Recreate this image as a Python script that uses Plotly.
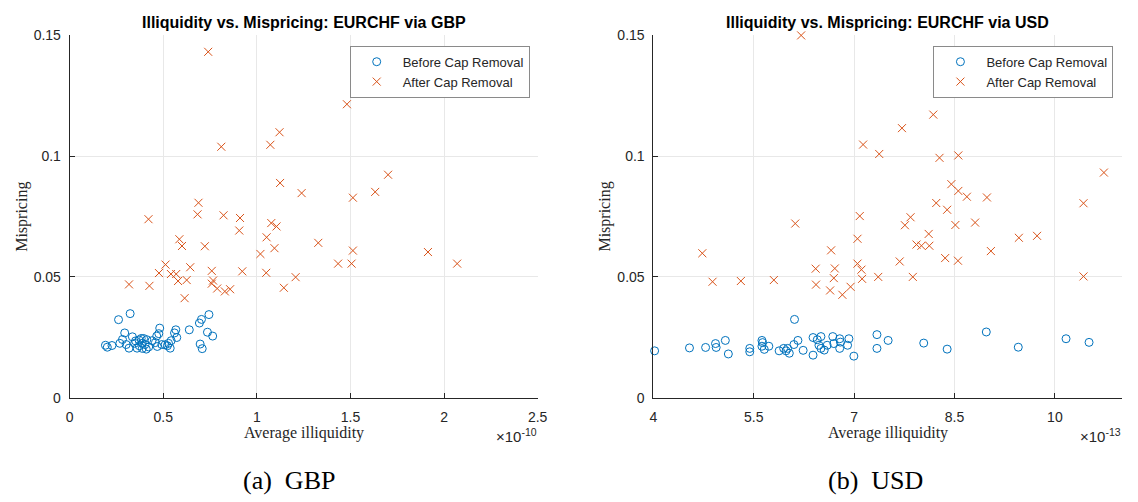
import plotly.graph_objects as go

# ---------------- data ----------------
# GBP panel (x in units of 1e-10)
gbp_before_x = [0.261, 0.323, 0.191, 0.201, 0.226, 0.268, 0.294, 0.282, 0.317, 0.335,
                0.360, 0.370, 0.388, 0.395, 0.409, 0.388, 0.440, 0.458, 0.468, 0.476,
                0.481, 0.465, 0.528, 0.537, 0.542, 0.560, 0.567, 0.572, 0.639, 0.693,
                0.704, 0.744, 0.736, 0.764, 0.697, 0.708, 0.510, 0.352, 0.372, 0.382,
                0.402, 0.412, 0.422, 0.347, 0.302, 0.492, 0.522]
gbp_before_y = [0.0323, 0.0348, 0.0217, 0.0209, 0.0216, 0.0225, 0.0268, 0.0241, 0.0205, 0.0252,
                0.0205, 0.0239, 0.0225, 0.0245, 0.0201, 0.0204, 0.0236, 0.0228, 0.0212, 0.0265,
                0.0288, 0.0255, 0.0225, 0.0205, 0.0236, 0.0268, 0.0281, 0.0249, 0.0281, 0.0309,
                0.0324, 0.0344, 0.0271, 0.0255, 0.0222, 0.0203, 0.0219, 0.0235, 0.0215, 0.0245,
                0.0220, 0.0240, 0.0210, 0.0225, 0.0220, 0.0220, 0.0215]
gbp_after_x = [0.740, 0.810, 1.121, 1.072, 1.124, 1.239, 0.688, 0.683, 0.822, 0.910,
               0.421, 1.481, 1.513, 1.632, 1.701, 0.906, 1.077, 1.105, 1.052, 1.094,
               1.019, 0.586, 0.600, 0.722, 0.512, 0.477, 0.541, 0.569, 0.644, 0.579,
               0.625, 0.759, 0.766, 0.759, 0.788, 0.829, 0.857, 0.614, 0.922, 1.050,
               1.207, 1.144, 0.317, 0.426, 1.328, 1.513, 1.434, 1.506, 1.914, 2.070]
gbp_after_y = [0.1432, 0.1039, 0.1099, 0.1047, 0.0889, 0.0847, 0.0807, 0.0759, 0.0755, 0.0744,
               0.0739, 0.1215, 0.0828, 0.0852, 0.0923, 0.0692, 0.0723, 0.0709, 0.0664, 0.0619,
               0.0595, 0.0656, 0.0628, 0.0627, 0.0551, 0.0516, 0.0512, 0.0512, 0.0540, 0.0483,
               0.0487, 0.0525, 0.0485, 0.0472, 0.0452, 0.0440, 0.0449, 0.0412, 0.0523, 0.0517,
               0.0499, 0.0455, 0.0469, 0.0463, 0.0641, 0.0609, 0.0555, 0.0555, 0.0603, 0.0555]

# USD panel (x in units of 1e-13)
usd_before_x = [4.018, 4.539, 4.780, 4.928, 4.938, 5.075, 5.120, 5.440, 5.440, 5.622,
                5.632, 5.622, 5.725, 5.657, 5.879, 5.947, 5.982, 6.031, 6.006, 6.100,
                6.160, 6.109, 6.238, 6.386, 6.386, 6.449, 6.504, 6.474, 6.504, 6.553,
                6.597, 6.681, 6.696, 6.784, 6.784, 6.794, 6.902, 6.922, 6.996, 7.341,
                7.341, 7.508, 8.040, 8.390, 8.975, 9.453, 10.167, 10.511]
usd_before_y = [0.0194, 0.0206, 0.0208, 0.0224, 0.0208, 0.0237, 0.0181, 0.0204, 0.0190, 0.0237,
                0.0228, 0.0213, 0.0213, 0.0200, 0.0194, 0.0204, 0.0194, 0.0184, 0.0204, 0.0220,
                0.0237, 0.0324, 0.0196, 0.0249, 0.0176, 0.0240, 0.0253, 0.0217, 0.0204, 0.0197,
                0.0217, 0.0253, 0.0224, 0.0244, 0.0204, 0.0230, 0.0217, 0.0244, 0.0172, 0.0261,
                0.0204, 0.0237, 0.0226, 0.0201, 0.0272, 0.0209, 0.0244, 0.0229]
usd_after_x = [6.208, 7.134, 7.375, 7.084, 8.183, 7.715, 8.276, 8.557, 10.733, 8.453,
               8.557, 8.685, 8.985, 8.227, 8.390, 10.428, 7.843, 7.759, 8.513, 8.808,
               8.114, 7.932, 8.006, 8.124, 9.044, 9.462, 9.734, 7.681, 8.360, 8.552,
               7.360, 7.877, 10.428, 6.120, 7.050, 4.731, 6.656, 6.425, 6.711, 7.050,
               7.109, 6.696, 7.119, 4.884, 5.307, 5.800, 6.430, 6.641, 6.824, 6.947]
usd_after_y = [0.1500, 0.1048, 0.1009, 0.0752, 0.1172, 0.1116, 0.0993, 0.1003, 0.0932, 0.0884,
               0.0856, 0.0832, 0.0829, 0.0806, 0.0778, 0.0805, 0.0747, 0.0714, 0.0715, 0.0725,
               0.0678, 0.0634, 0.0629, 0.0629, 0.0607, 0.0662, 0.0670, 0.0564, 0.0578, 0.0567,
               0.0500, 0.0500, 0.0502, 0.0721, 0.0658, 0.0598, 0.0610, 0.0534, 0.0535, 0.0555,
               0.0530, 0.0495, 0.0492, 0.0480, 0.0483, 0.0487, 0.0468, 0.0444, 0.0426, 0.0459]

gbp_xticks = [0, 0.5, 1, 1.5, 2, 2.5]
gbp_xticklabels = ["0", "0.5", "1", "1.5", "2", "2.5"]
usd_xticks = [4, 5.5, 7, 8.5, 10]
usd_xticklabels = ["4", "5.5", "7", "8.5", "10"]
yticks = [0, 0.05, 0.1, 0.15]
yticklabels = ["0", "0.05", "0.1", "0.15"]

series_names = ["Before Cap Removal", "After Cap Removal"]
titles = ["Illiquidity vs. Mispricing: EURCHF via GBP", "Illiquidity vs. Mispricing: EURCHF via USD"]
captions = ["(a)\u00a0\u00a0GBP", "(b)\u00a0\u00a0USD"]
exponents = ["×10<sup>-10</sup>", "×10<sup>-13</sup>"]

# ---------------- style ----------------
BLUE = "#0072BD"
ORANGE = "#D95319"
W, H = 1138, 502
SANS = "Liberation Sans, Arial, sans-serif"
SERIF = "Liberation Serif, DejaVu Serif, serif"

def px(xp):
    return xp / W

def py(yp):
    return 1 - yp / H

fig = go.Figure()

panels = [
    (gbp_before_x, gbp_before_y, gbp_after_x, gbp_after_y, "x", "y", "legend"),
    (usd_before_x, usd_before_y, usd_after_x, usd_after_y, "x2", "y2", "legend2"),
]
for bx, by, ax, ay, xa, ya, lg in panels:
    fig.add_trace(go.Scatter(x=bx, y=by, mode="markers", name=series_names[0],
                             xaxis=xa, yaxis=ya, legend=lg, cliponaxis=False,
                             marker=dict(symbol="circle-open", size=8, color=BLUE,
                                         line=dict(width=1, color=BLUE))))
    fig.add_trace(go.Scatter(x=ax, y=ay, mode="markers", name=series_names[1],
                             xaxis=xa, yaxis=ya, legend=lg, cliponaxis=False,
                             marker=dict(symbol="x-thin-open", size=8, color=ORANGE,
                                         line=dict(width=1, color=ORANGE))))

ydom = [py(402.5), py(28.3)]
xdoms = [[px(66.5), px(540.3)], [px(657.5), px(1131.7)]]

common_x = dict(showgrid=True, gridcolor="#e8e8e8", gridwidth=1, zeroline=False,
                showline=True, linecolor="#262626", linewidth=1, mirror=False,
                ticks="inside", ticklen=5, tickcolor="#262626", ticklabelstandoff=7,
                tickfont=dict(family=SANS, size=14, color="#262626"))
common_y = dict(common_x, ticklabelstandoff=5)

legend_common = dict(xanchor="left", yanchor="top",
                     bgcolor="white", bordercolor="#8a8a8a", borderwidth=1,
                     font=dict(family=SANS, size=13, color="#262626"),
                     tracegroupgap=0, itemwidth=42)

fig.update_layout(
    width=W, height=H,
    margin=dict(l=0, r=0, t=0, b=0),
    paper_bgcolor="white", plot_bgcolor="white",
    xaxis=dict(common_x, domain=xdoms[0], range=[0, 2.5], tickvals=gbp_xticks,
               ticktext=gbp_xticklabels, anchor="y"),
    yaxis=dict(common_y, domain=ydom, range=[0, 0.15], tickvals=yticks,
               ticktext=yticklabels, anchor="x"),
    xaxis2=dict(common_x, domain=xdoms[1], range=[4, 11], tickvals=usd_xticks,
                ticktext=usd_xticklabels, anchor="y2"),
    yaxis2=dict(common_y, domain=ydom, range=[0, 0.15], tickvals=yticks,
                ticktext=yticklabels, anchor="x2"),
    legend=dict(legend_common, x=px(350), y=py(39)),
    legend2=dict(legend_common, x=px(941), y=py(39)),
    showlegend=True,
)

annotations = []
for i, xd in enumerate(xdoms):
    cx = (xd[0] + xd[1]) / 2
    annotations.append(dict(text="<b>" + titles[i] + "</b>", x=cx, y=py(15), xref="paper", yref="paper",
                            showarrow=False, xanchor="center", yanchor="middle",
                            font=dict(family=SANS, size=16, color="black")))
    annotations.append(dict(text="Average illiquidity", x=cx, y=py(439), xref="paper", yref="paper",
                            showarrow=False, xanchor="center", yanchor="middle",
                            font=dict(family=SERIF, size=16, color="#262626")))
    annotations.append(dict(text=exponents[i], x=xd[1] + px(1), y=py(442), xref="paper", yref="paper",
                            showarrow=False, xanchor="right", yanchor="middle",
                            font=dict(family=SANS, size=15, color="#262626")))
    annotations.append(dict(text="Mispricing", x=xd[0] - px(49), y=(ydom[0] + ydom[1]) / 2,
                            xref="paper", yref="paper", showarrow=False, textangle=-90,
                            xanchor="center", yanchor="middle",
                            font=dict(family=SERIF, size=16, color="#262626")))
    annotations.append(dict(text=captions[i], x=cx - px(15 if i == 0 else 12), y=py(488),
                            xref="paper", yref="paper",
                            showarrow=False, xanchor="center", yanchor="middle",
                            font=dict(family=SERIF, size=26, color="black")))
fig.update_layout(annotations=annotations)

fig.write_html("out.html")
